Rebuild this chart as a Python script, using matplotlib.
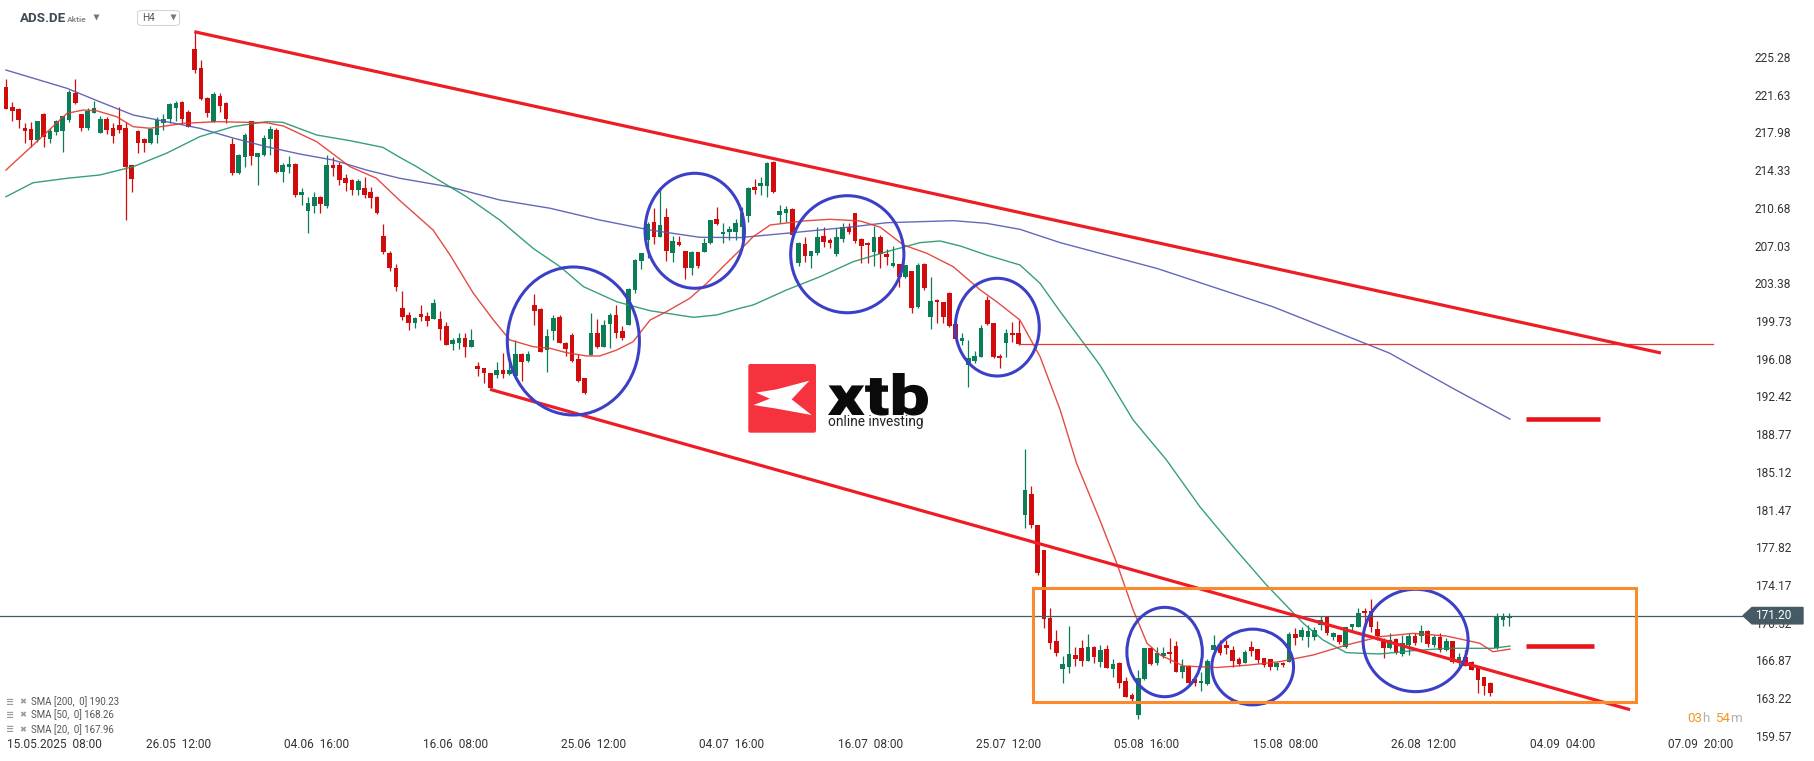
import numpy as np
import matplotlib
matplotlib.use("Agg")
from matplotlib import pyplot as plt
from matplotlib.patches import Ellipse, Rectangle, Polygon, FancyBboxPatch, PathPatch
from matplotlib.transforms import blended_transform_factory, Affine2D
from matplotlib.textpath import TextPath
from matplotlib.font_manager import FontProperties

plt.rcParams['font.family'] = ['Roboto', 'DejaVu Sans']

# ---- H4 candles, ADS.DE ----
opens = [
    222.4, 220.44, 220.25, 218.4, 218.3, 217.25, 219.8, 217.37, 218.05, 218.15,
    219.18, 221.83, 219.76, 218.38, 219.9, 217.95, 219.28, 218.4, 218.7, 218.4,
    214.83, 218.12, 217.35, 216.99, 217.76, 218.92, 219.25, 220.38, 220.93, 219.99,
    226.06, 224.19, 221.35, 219.02, 221.5, 220.8, 216.86, 214.08, 215.63, 219.09,
    215.63, 215.8, 217.35, 218.22, 214.18, 214.6, 214.92, 211.95, 210.4, 210.89,
    211.76, 210.86, 214.83, 214.83, 213.6, 213.38, 212.4, 212.57, 212.18, 211.76,
    207.95, 206.3, 204.9, 201.0, 200.3, 199.56, 200.4, 200.2, 199.9, 199.92,
    199.24, 197.47, 197.57, 198.05, 197.24, 195.37, 195.15, 194.67, 194.5, 194.98,
    194.6, 194.4, 196.53, 195.89, 201.28, 200.89, 196.92, 198.79, 200.14, 197.63,
    198.37, 196.02, 194.18, 196.43, 198.54, 197.24, 199.44, 200.3, 198.79, 199.34,
    202.73, 205.57, 207.57, 209.28, 207.89, 209.79, 206.34, 207.4, 206.5, 204.89,
    206.38, 206.44, 207.25, 209.6, 208.12, 208.34, 208.37, 208.8, 209.89, 212.73,
    212.82, 212.82, 215.15, 210.0, 210.21, 210.54, 205.37, 207.18, 205.98, 206.34,
    207.95, 207.57, 206.22, 207.63, 208.86, 210.15, 207.63, 207.25, 206.44, 207.83,
    206.22, 205.05, 205.24, 203.96, 204.57, 201.06, 205.24, 200.08, 201.76, 201.54,
    202.47, 199.43, 197.82, 195.47, 195.89, 196.21, 201.76, 199.5, 196.34, 197.63,
    198.6, 198.54, 180.95, 182.98, 180.0, 177.56, 170.95, 168.75, 166.0, 166.26,
    167.4, 168.05, 166.85, 168.14, 166.75, 167.95, 166.0, 166.66, 164.88, 163.52,
    161.59, 165.04, 168.11, 166.59, 167.3, 167.66, 168.27, 165.78, 166.33, 165.05,
    164.66, 164.56, 167.88, 168.37, 168.37, 167.88, 167.01, 166.66, 168.14, 167.95,
    167.07, 166.98, 166.2, 166.66, 166.75, 169.43, 169.11, 169.18, 169.18, 170.27,
    171.04, 169.11, 169.33, 168.2, 170.08, 170.15, 171.66, 171.66, 169.89, 168.78,
    168.04, 168.91, 167.49, 168.37, 169.24, 169.24, 169.76, 168.37, 169.18, 167.88,
    168.75, 166.66, 167.18, 166.75, 166.2, 165.24, 164.72, 168.04, 170.79, 170.95,
]
highs = [
    223.15, 220.96, 220.3, 218.9, 219.0, 219.1, 219.9, 218.4, 219.2, 219.6,
    222.09, 223.15, 219.8, 220.35, 221.0, 219.6, 219.5, 218.9, 220.4, 218.96,
    214.83, 218.2, 217.4, 218.4, 219.5, 219.8, 220.86, 221.0, 221.0, 220.15,
    227.73, 224.99, 221.4, 221.92, 221.77, 220.96, 217.4, 215.9, 217.9, 219.1,
    216.0, 217.7, 218.6, 218.4, 215.05, 215.7, 215.0, 212.6, 211.76, 212.2,
    211.8, 215.8, 215.6, 215.1, 214.0, 213.5, 213.5, 213.7, 212.7, 211.8,
    209.1, 206.5, 205.2, 202.6, 200.63, 200.14, 201.28, 200.63, 201.83, 200.7,
    199.66, 198.05, 198.54, 198.54, 198.95, 195.73, 195.2, 194.7, 195.8, 196.6,
    195.8, 197.89, 196.6, 196.8, 202.34, 201.0, 198.95, 200.3, 200.3, 197.7,
    198.54, 196.5, 194.2, 200.47, 199.9, 199.82, 200.53, 201.28, 199.24, 202.9,
    205.7, 206.34, 209.28, 210.7, 212.57, 210.63, 207.95, 207.99, 206.5, 206.5,
    206.4, 207.8, 209.5, 210.73, 209.18, 208.92, 209.63, 210.8, 212.73, 213.44,
    213.7, 215.15, 215.24, 210.96, 210.86, 210.63, 207.41, 207.89, 206.5, 208.8,
    208.8, 207.73, 208.7, 209.18, 209.18, 210.21, 207.73, 207.41, 208.93, 208.05,
    206.67, 206.99, 205.24, 205.15, 204.6, 205.37, 205.31, 204.02, 201.83, 201.6,
    202.5, 199.5, 198.6, 197.89, 196.86, 199.34, 202.15, 199.56, 196.53, 198.92,
    199.66, 199.82, 187.31, 183.76, 180.0, 177.56, 171.92, 169.82, 167.3, 170.2,
    168.2, 168.85, 169.43, 168.27, 168.37, 168.37, 166.98, 166.7, 165.24, 163.69,
    165.95, 168.05, 168.2, 168.2, 168.2, 169.01, 168.7, 166.98, 166.4, 165.1,
    165.7, 166.98, 169.33, 168.85, 168.85, 168.27, 167.24, 167.88, 168.75, 167.95,
    167.1, 167.0, 166.75, 166.75, 169.66, 169.98, 170.15, 170.3, 170.15, 171.14,
    171.04, 169.66, 169.33, 170.15, 170.4, 171.92, 171.92, 172.82, 170.7, 169.01,
    169.56, 169.01, 169.33, 169.5, 169.5, 170.3, 169.82, 169.33, 169.5, 169.0,
    168.75, 167.62, 167.88, 166.8, 166.33, 165.3, 164.82, 171.43, 171.43, 171.43,
]
lows = [
    220.25, 219.09, 218.44, 217.0, 216.6, 217.05, 216.6, 217.0, 217.73, 216.1,
    219.0, 220.73, 218.15, 218.2, 219.86, 217.9, 217.83, 217.0, 217.95, 209.5,
    212.24, 216.0, 216.1, 216.9, 216.93, 218.22, 218.86, 219.09, 218.77, 218.5,
    223.7, 221.1, 219.5, 219.0, 219.99, 218.86, 213.86, 214.0, 214.66, 214.83,
    212.9, 215.7, 215.8, 214.1, 213.2, 214.08, 211.76, 210.96, 208.28, 210.2,
    210.2, 210.7, 213.76, 212.9, 212.3, 211.9, 211.9, 211.6, 210.7, 210.1,
    206.2, 204.6, 202.6, 199.8, 198.86, 199.02, 199.73, 199.27, 199.9, 197.89,
    197.4, 196.92, 196.98, 196.21, 197.2, 194.4, 193.7, 193.2, 194.18, 194.18,
    194.5, 194.3, 193.95, 195.8, 199.34, 196.7, 194.82, 197.89, 197.6, 196.34,
    195.8, 193.8, 192.7, 196.4, 197.1, 197.2, 197.08, 198.05, 197.89, 199.3,
    202.47, 204.76, 205.8, 207.18, 207.85, 205.54, 205.47, 206.98, 203.77, 204.18,
    204.9, 206.4, 207.2, 209.0, 207.3, 207.57, 207.57, 207.57, 209.34, 211.99,
    211.92, 211.76, 212.08, 209.25, 209.28, 208.0, 205.05, 205.47, 204.9, 206.12,
    206.92, 206.76, 206.02, 207.41, 208.1, 207.25, 205.37, 205.37, 205.05, 204.89,
    205.15, 205.0, 203.05, 203.9, 200.47, 201.0, 202.73, 198.95, 199.5, 199.5,
    199.1, 197.73, 197.4, 193.3, 195.63, 196.2, 199.3, 196.12, 195.15, 196.21,
    197.73, 197.4, 179.66, 179.66, 175.14, 169.98, 167.95, 167.3, 164.72, 165.68,
    166.33, 166.33, 166.8, 166.65, 166.27, 166.1, 165.3, 164.24, 163.3, 162.88,
    161.17, 164.95, 166.45, 166.43, 167.08, 166.65, 165.7, 165.14, 164.6, 164.4,
    163.9, 164.5, 167.85, 167.4, 167.5, 166.2, 166.33, 166.59, 167.3, 166.66,
    166.2, 165.95, 165.95, 166.2, 166.7, 168.37, 168.85, 168.2, 168.85, 169.82,
    169.37, 168.85, 168.5, 168.1, 169.63, 170.1, 170.15, 169.63, 168.8, 167.08,
    168.0, 167.49, 167.3, 167.4, 168.4, 168.69, 168.2, 168.2, 167.72, 167.8,
    166.59, 166.1, 166.3, 165.9, 163.75, 163.52, 163.43, 168.0, 170.2, 170.2,
]
closes = [
    220.25, 220.08, 219.21, 218.15, 217.25, 219.09, 217.5, 218.15, 219.09, 219.57,
    221.92, 220.86, 218.44, 220.08, 220.38, 219.28, 218.22, 217.63, 218.22, 214.66,
    213.5, 216.99, 216.99, 218.34, 219.18, 219.25, 220.7, 220.8, 219.28, 218.54,
    224.02, 221.19, 219.89, 221.67, 220.54, 219.25, 214.02, 215.8, 217.73, 215.7,
    215.96, 217.47, 218.3, 214.18, 214.83, 214.9, 211.95, 212.18, 211.12, 211.76,
    211.05, 214.83, 214.5, 213.38, 213.12, 212.4, 213.28, 211.92, 211.66, 210.21,
    206.4, 204.9, 203.0, 200.14, 199.56, 200.05, 200.14, 199.76, 201.5, 198.95,
    197.4, 197.89, 198.05, 197.24, 197.89, 195.05, 194.67, 193.27, 194.98, 194.6,
    194.98, 196.53, 195.8, 196.5, 200.73, 196.76, 198.28, 199.99, 197.63, 196.98,
    195.89, 193.95, 192.73, 198.54, 197.24, 199.34, 200.3, 198.6, 198.05, 202.8,
    205.63, 206.28, 209.09, 207.89, 209.02, 206.5, 207.5, 207.08, 204.89, 206.44,
    205.05, 207.25, 209.5, 209.09, 208.34, 208.66, 209.25, 210.15, 212.57, 212.4,
    213.12, 215.05, 212.24, 210.34, 210.57, 208.05, 207.31, 206.02, 206.46, 207.89,
    207.41, 207.25, 207.89, 208.86, 208.37, 207.5, 206.99, 207.05, 207.83, 206.22,
    205.95, 205.31, 204.02, 205.15, 200.96, 205.15, 202.95, 201.66, 201.54, 200.08,
    199.27, 197.95, 198.05, 196.12, 196.34, 199.02, 199.4, 196.21, 196.12, 198.6,
    198.37, 197.5, 183.37, 179.98, 175.3, 170.85, 168.59, 167.62, 166.49, 167.46,
    166.98, 166.85, 168.14, 167.17, 167.88, 166.11, 166.53, 164.72, 163.36, 163.17,
    165.14, 168.05, 166.5, 167.56, 167.56, 167.46, 165.78, 166.33, 164.66, 164.66,
    164.88, 166.85, 168.37, 167.56, 168.04, 166.85, 166.53, 167.72, 167.78, 166.92,
    166.43, 166.27, 166.66, 166.4, 169.43, 169.07, 169.82, 169.76, 169.82, 170.82,
    169.53, 169.5, 168.69, 170.08, 170.37, 171.5, 171.43, 170.15, 169.24, 168.04,
    168.85, 167.62, 168.59, 169.24, 168.53, 169.76, 168.47, 169.11, 167.88, 168.75,
    166.75, 167.18, 166.33, 165.95, 164.98, 164.40, 163.69, 171.1, 171.1, 171.20,
]

# moving averages as shown on the chart (bar index, value)
sma200_x = [0, 9.7, 14.9, 20.2, 25.5, 30.8, 36.1, 41.4, 46.7, 52.0, 57.3, 62.6, 70.6, 78.5,
            86.5, 94.4, 102.4, 110.3, 116.7, 124.1, 134.7, 140.0, 145.3, 150.6, 155.9,
            161.2, 167.6, 183.0, 201.4, 219.9, 230.8, 239.1]
sma200_y = [224.02, 222.25, 220.95, 219.67, 219.02, 218.38, 217.44, 216.6, 215.89, 215.31,
            214.34, 213.54, 212.7, 211.44, 210.64, 209.5, 208.53, 207.83, 207.8, 208.22,
            208.85, 209.24, 209.34, 209.44, 209.18, 208.6, 207.31, 204.81, 201.11, 196.63,
            192.95, 190.23]
sma50_x = [0, 4.3, 9.7, 14.9, 20.2, 25.5, 30.8, 36.1, 41.4, 44.0, 49.4, 54.7, 59.9, 62.6,
           65.3, 67.9, 73.2, 78.5, 83.8, 88.1, 91.8, 97.1, 102.4, 109.3, 113.0, 116.7, 118.8,
           124.1, 129.4, 134.7, 140.0, 145.3, 148.5, 151.7, 155.9, 161.2, 164.4, 167.6,
           173.9, 179.2, 184.5, 189.8, 195.1, 200.4, 206.2, 209.4, 213.1, 218.4, 223.7,
           229.0, 236.4, 239.1]
sma50_y = [211.76, 213.11, 213.54, 213.86, 214.66, 215.96, 217.57, 218.54, 219.02, 218.96,
           217.73, 217.18, 216.54, 215.57, 214.66, 213.69, 211.76, 209.5, 206.76, 204.98,
           203.05, 201.59, 200.72, 200.08, 200.31, 200.96, 201.28, 202.73, 204.01, 205.47,
           206.43, 207.31, 207.47, 206.99, 206.11, 205.15, 203.37, 200.63, 195.47, 190.14,
           186.27, 181.75, 177.88, 174.17, 170.49, 168.84, 167.62, 167.49, 167.81, 168.04,
           168.04, 168.26]
sma20_x = [0, 4.3, 9.7, 12.3, 14.4, 17.6, 20.2, 22.9, 28.2, 33.5, 41.4, 44.1, 49.4, 54.7,
           58.9, 62.6, 67.9, 70.6, 74.3, 77.5, 80.1, 83.8, 86.5, 89.1, 92.3, 94.4, 97.1,
           99.7, 102.4, 105.0, 108.7, 111.4, 114.0, 116.7, 118.8, 121.5, 126.8, 131.0,
           135.8, 139.0, 142.7, 146.4, 150.6, 154.9, 157.5, 161.2, 164.4, 167.6, 170.2,
           173.9, 176.6, 179.2, 181.4, 183.5, 187.2, 192.5, 197.8, 202.5, 207.8, 213.1,
           218.4, 223.7, 229.0, 234.3, 236.4, 239.1]
sma20_y = [214.34, 216.76, 219.83, 220.15, 220.08, 219.5, 218.54, 218.38, 218.86, 219.02,
           218.92, 218.6, 217.08, 214.66, 213.54, 211.39, 208.53, 206.11, 202.41, 199.82,
           197.89, 197.24, 197.08, 196.66, 196.34, 196.34, 196.92, 197.72, 199.82, 200.63,
           201.92, 203.37, 204.98, 206.6, 207.89, 209.02, 209.41, 209.57, 209.41, 208.8,
           207.08, 206.28, 204.98, 202.73, 201.59, 199.82, 196.27, 191.11, 185.95, 180.46,
           176.27, 171.75, 168.53, 167.39, 166.33, 166.18, 166.43, 166.75, 167.39, 168.36,
           169.16, 169.49, 169.23, 168.53, 167.71, 167.96]

# drawn annotations (bar index, price)
upper_channel = [(29.94, 227.73), (263.1, 196.63)]
lower_channel = [(76.95, 193.11), (258.2, 162.1)]
circles = [(90.2, 197.79, 21.0, 14.33), (109.5, 208.46, 15.8, 11.13), (133.75, 206.19, 18.0, 11.33),
           (157.6, 199.13, 13.35, 9.46), (184.2, 167.68, 12.0, 8.65), (198.2, 166.23, 13.0, 7.33),
           (224.1, 168.8, 16.7, 9.91)]
range_box = (163.3, 259.1, 162.81, 173.91)
level_line = (161, 271.4, 197.5)
target_marks = [(241.6, 253.4, 190.24), (241.6, 252.5, 168.27)]

date_pos = [5.4, 27.4, 49.4, 71.4, 93.4, 115.4, 137.4, 159.4, 181.4, 203.4, 225.4, 247.4, 269.4]
date_labels = ["15.05.2025  08:00", "26.05  12:00", "04.06  16:00", "16.06  08:00", "25.06  12:00",
               "04.07  16:00", "16.07  08:00", "25.07  12:00", "05.08  16:00", "15.08  08:00",
               "26.08  12:00", "04.09  04:00", "07.09  20:00"]
price_ticks = [159.57, 163.22, 166.87, 170.52, 174.17, 177.82, 181.47, 185.12, 188.77, 192.42,
               196.08, 199.73, 203.38, 207.03, 210.68, 214.33, 217.98, 221.63, 225.28]

GREEN = '#0b7d57'
RED = '#d10c0c'

W, H = 1815, 761
fig = plt.figure(figsize=(W / 100, H / 100), dpi=100)
ax = fig.add_axes([0, 0, 1, 1])
# 6.29 px per bar (first bar 6 px in), 10.33 px per EUR, 230.8 at top edge
ax.set_xlim(-6 / 6.29, (W - 6) / 6.29)
ax.set_ylim(230.8 - H / 10.33, 230.8)
for s in ax.spines.values():
    s.set_visible(False)

o = np.array(opens); c = np.array(closes)
hi = np.array(highs); lo = np.array(lows)
idx = np.arange(len(c))
col = np.where(c >= o, GREEN, RED)
ax.vlines(idx, lo, hi, colors=col, lw=0.9, zorder=2)
ax.bar(idx, np.maximum(np.abs(c - o), 0.1), bottom=np.minimum(o, c), width=0.74,
       color=col, linewidth=0, zorder=3)

ax.plot(sma200_x, sma200_y, color='#5458b0', lw=1.0, alpha=0.9, zorder=4)
ax.plot(sma50_x, sma50_y, color='#22956a', lw=1.0, alpha=0.9, zorder=4)
ax.plot(sma20_x, sma20_y, color='#e2382f', lw=1.0, alpha=0.9, zorder=4)

# annotations
(x0, y0), (x1, y1) = upper_channel
ax.plot([x0, x1], [y0, y1], color='#ee1c25', lw=2.3, zorder=6, solid_capstyle='butt')
(x0, y0), (x1, y1) = lower_channel
ax.plot([x0, x1], [y0, y1], color='#ee1c25', lw=2.3, zorder=6, solid_capstyle='butt')
for cx, cy, w, h in circles:
    ax.add_patch(Ellipse((cx, cy), w, h, fill=False, ec='#3c40c6', lw=2.2, zorder=7))
bx0, bx1, by0, by1 = range_box
ax.add_patch(Rectangle((bx0, by0), bx1 - bx0, by1 - by0, fill=False, ec='#fb8a2c', lw=2.2, zorder=7))
ax.plot([level_line[0], level_line[1]], [level_line[2]] * 2, color='#e53935', lw=0.9, zorder=5)
for a, b, v in target_marks:
    ax.plot([a, b], [v, v], color='#e8141b', lw=3.3, zorder=6, solid_capstyle='butt')

# current price line and tag
last = closes[-1]
tr = blended_transform_factory(ax.transAxes, ax.transData)
ax.plot([0, 1743 / W], [last, last], transform=tr, color='#455a64', lw=0.9, zorder=5)
half = 8.2 / 10.33
ax.add_patch(Polygon([[1743 / W, last], [1752 / W, last + half], [1803 / W, last + half],
                      [1803 / W, last - half], [1752 / W, last - half]],
                     closed=True, transform=tr, color='#455a64', zorder=10))
ax.text(1755 / W, last, f"{last:.2f}", transform=tr, color='white', va='center', ha='left',
        fontsize=8.6, zorder=11)

# axes ticks drawn inside the figure
ax.yaxis.tick_right()
ax.set_yticks(price_ticks)
ax.set_yticklabels([f"{v:.2f}" for v in price_ticks])
ax.tick_params(axis='y', length=0, pad=-43.2, labelsize=8.6, labelcolor='#333333')
ax.set_xticks(date_pos)
ax.set_xticklabels([''] + date_labels[1:])
ax.tick_params(axis='x', length=0, pad=-16.5, labelsize=8.6, labelcolor='#333333')
ax.text(7 / W, 1 - 738 / H, date_labels[0], transform=ax.transAxes, va='top', ha='left',
        fontsize=8.6, color='#333333')

# header
fig.text(20 / W, 1 - 18.5 / H, "ADS.DE", fontsize=9.6, fontweight='bold', color='#3e4a55', va='center')
fig.text(67 / W, 1 - 19 / H, "Aktie", fontsize=6, fontweight='bold', color='#8a8a8a', va='center')
fig.add_artist(plt.Line2D([96.5 / W], [1 - 16.5 / H], marker='v', ms=5, color='#777777', mec='none'))
fig.add_artist(FancyBboxPatch((137.5 / W, 1 - 25.5 / H), 42 / W, 15 / H,
                              boxstyle="round,pad=0,rounding_size=0.003", fc='white',
                              ec='#d6d6d6', lw=0.8, transform=fig.transFigure))
fig.text(142.5 / W, 1 - 18.3 / H, "H4", fontsize=7.2, color='#555555', va='center')
fig.add_artist(plt.Line2D([173 / W], [1 - 17 / H], marker='v', ms=4.5, color='#777777', mec='none'))

# SMA legend
legend_rows = [("SMA [200,  0]", sma200_y[-1], 701.7), ("SMA [50,  0]", sma50_y[-1], 715.0),
               ("SMA [20,  0]", sma20_y[-1], 729.3)]
for name, val, py in legend_rows:
    fig.text(6 / W, 1 - py / H, "\u2261", fontsize=7, color='#9a9a9a', va='center',
             family=['DejaVu Sans'], fontweight='bold')
    fig.text(19.5 / W, 1 - py / H, "\u2716", fontsize=6, color='#9a9a9a', va='center',
             family=['DejaVu Sans'])
    fig.text(31.5 / W, 1 - py / H, f"{name} {val:.2f}", fontsize=6.9, color='#555555', va='center')

# countdown
for txt, px, cl in [("03", 1687, '#f7931e'), ("h", 1702.5, '#b0b0b0'),
                    ("54", 1715, '#f7931e'), ("m", 1730, '#b0b0b0')]:
    fig.text(px / W, 1 - 721.5 / H, txt, fontsize=9.6, color=cl, va='baseline')

# xtb logo
lax = fig.add_axes([748.3 / W, 1 - 432.7 / H, 67.7 / W, 68.7 / H])
lax.set_xlim(0, 1); lax.set_ylim(0, 1); lax.axis('off')
lax.add_patch(FancyBboxPatch((0, 0), 1, 1, boxstyle="round,pad=0,rounding_size=0.03",
                             fc='#f6323e', ec='none'))
lax.add_patch(Polygon([[0.113, 0.583], [0.419, 0.631], [0.901, 0.757], [0.640, 0.485],
                       [0.936, 0.257], [0.394, 0.354], [0.074, 0.403], [0.320, 0.495]],
                      closed=True, fc='white', ec='none'))
# wordmark stretched into its box (828..928 px wide, baseline 415, top 373)
tp = TextPath((0, 0), "xtb", size=1, prop=FontProperties(family='Roboto', weight='black'))
ext = tp.get_extents()
sx = 100 / ext.width
sy = 42 / ext.y1
word_tr = Affine2D().translate(-ext.x0, 0).scale(sx, sy).translate(828, H - 415)
fig.add_artist(PathPatch(tp, transform=word_tr, fc='#0a0a0a', ec='none'))
fig.text(828 / W, 1 - 426 / H, "online investing", fontsize=9.9, color='#222222', va='baseline')

fig.savefig("out.png", dpi=100, facecolor='white')
